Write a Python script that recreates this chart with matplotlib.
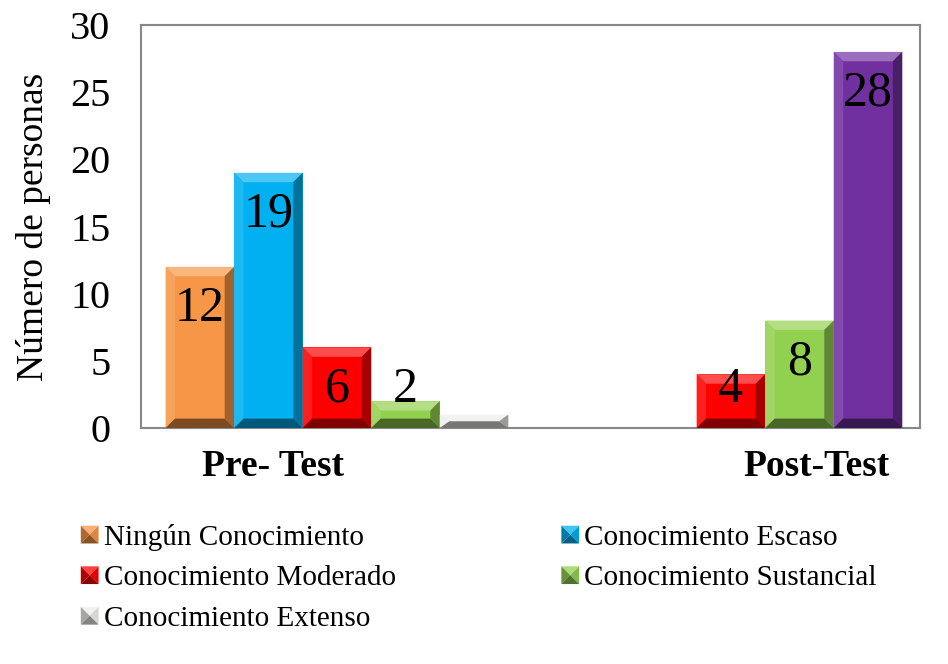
import numpy as np
import matplotlib.pyplot as plt
from matplotlib.colors import to_rgb
from matplotlib.patches import Polygon, Rectangle
from matplotlib.legend_handler import HandlerBase

plt.rcParams['font.family'] = ['Liberation Serif', 'DejaVu Serif']

# data
groups = ['Pre- Test', 'Post-Test']
series = ['Ningún Conocimiento', 'Conocimiento Escaso', 'Conocimiento Moderado',
          'Conocimiento Sustancial', 'Conocimiento Extenso']
ningun = [12, 0]
escaso = [19, 0]
moderado = [6, 4]
sustancial = [2, 8]
extenso = [1, 28]
values = [ningun, escaso, moderado, sustancial, extenso]

base_colors = ['#F79646', '#00B0F0', '#FF0000', '#92D050', '#EEEEEA']
point_colors = {(4, 1): '#7030A0'}  # post-test "Extenso" bar is purple


def shade(c, f):
    c = np.array(to_rgb(c))
    if f >= 0:
        return tuple(c + (1 - c) * f)
    return tuple(c * (1 + f))


def bevel(ax, x0, w, h, color, dx, dy):
    dy = min(dy, h / 2)
    x1 = x0 + w
    ax.add_patch(Polygon([(x0, h), (x1, h), (x1 - dx, h - dy), (x0 + dx, h - dy)],
                         closed=True, fc=shade(color, 0.3), ec='none', zorder=3))
    ax.add_patch(Polygon([(x0, 0), (x0, h), (x0 + dx, h - dy), (x0 + dx, dy)],
                         closed=True, fc=shade(color, 0.12), ec='none', zorder=3))
    ax.add_patch(Polygon([(x1, 0), (x1, h), (x1 - dx, h - dy), (x1 - dx, dy)],
                         closed=True, fc=shade(color, -0.35), ec='none', zorder=3))
    ax.add_patch(Polygon([(x0, 0), (x1, 0), (x1 - dx, dy), (x0 + dx, dy)],
                         closed=True, fc=shade(color, -0.5), ec='none', zorder=3))


class BevelHandler(HandlerBase):
    def create_artists(self, legend, orig, xd, yd, width, height, fontsize, trans):
        c = orig.get_facecolor()
        s = height
        x0 = xd + (width - s) / 2
        y0 = -yd
        cx, cy = x0 + s / 2, y0 + s / 2
        pts = [[(x0, y0 + s), (x0 + s, y0 + s), (cx, cy)],
               [(x0, y0), (x0, y0 + s), (cx, cy)],
               [(x0 + s, y0), (x0 + s, y0 + s), (cx, cy)],
               [(x0, y0), (x0 + s, y0), (cx, cy)]]
        fs = [0.25, -0.3, -0.1, -0.45]
        arts = []
        for p, f in zip(pts, fs):
            arts.append(Polygon(p, closed=True, fc=shade(c, f), ec='none', transform=trans))
        return arts


fig = plt.figure(figsize=(9.48, 6.64), dpi=100)
ax = fig.add_axes([0.1487, 0.3554, 0.8218, 0.6069])

x = np.arange(len(groups))
w = 0.174
handles = []
for i, (name, vals) in enumerate(zip(series, values)):
    cols = [point_colors.get((i, j), base_colors[i]) for j in range(len(groups))]
    bars = ax.bar(x + (i - 2) * w, vals, w, color=cols, zorder=2, label=name)
    handles.append(Rectangle((0, 0), 1, 1, fc=base_colors[i]))
    for j, b in enumerate(bars):
        h = b.get_height()
        if h <= 0:
            continue
        bevel(ax, b.get_x(), b.get_width(), h, cols[j], 0.024, 0.7)
        if h >= 2:
            ax.text(b.get_x() + b.get_width() / 2, max(h - 3.1, 2.85), str(h),
                    ha='center', va='center', fontsize=36, color='black', zorder=4)

ax.set_xlim(-0.4975, 1.48)
ax.set_ylim(0, 30)
ax.set_yticks(range(0, 31, 5))
ax.set_xticks([-0.162, 1.216])
ax.set_xticklabels(groups, fontsize=27, fontweight='bold')
ax.tick_params(axis='x', length=0, pad=15)
ax.tick_params(axis='y', length=0, pad=22, labelsize=29)
for sp in ax.spines.values():
    sp.set_color('#888888')
    sp.set_linewidth(1.5)
ax.set_ylabel('Número de personas', fontsize=27, labelpad=14)

order = [0, 2, 4, 1, 3]
fig.legend([handles[k] for k in order], [series[k] for k in order], ncol=2,
           loc='upper left', bbox_to_anchor=(0.086, 0.211), frameon=False,
           fontsize=21, handlelength=0.56, handleheight=0.56, handletextpad=0.2,
           columnspacing=5.7, labelspacing=0.5, borderpad=0, borderaxespad=0,
           handler_map={Rectangle: BevelHandler()})

fig.savefig('out.png', dpi=100)
